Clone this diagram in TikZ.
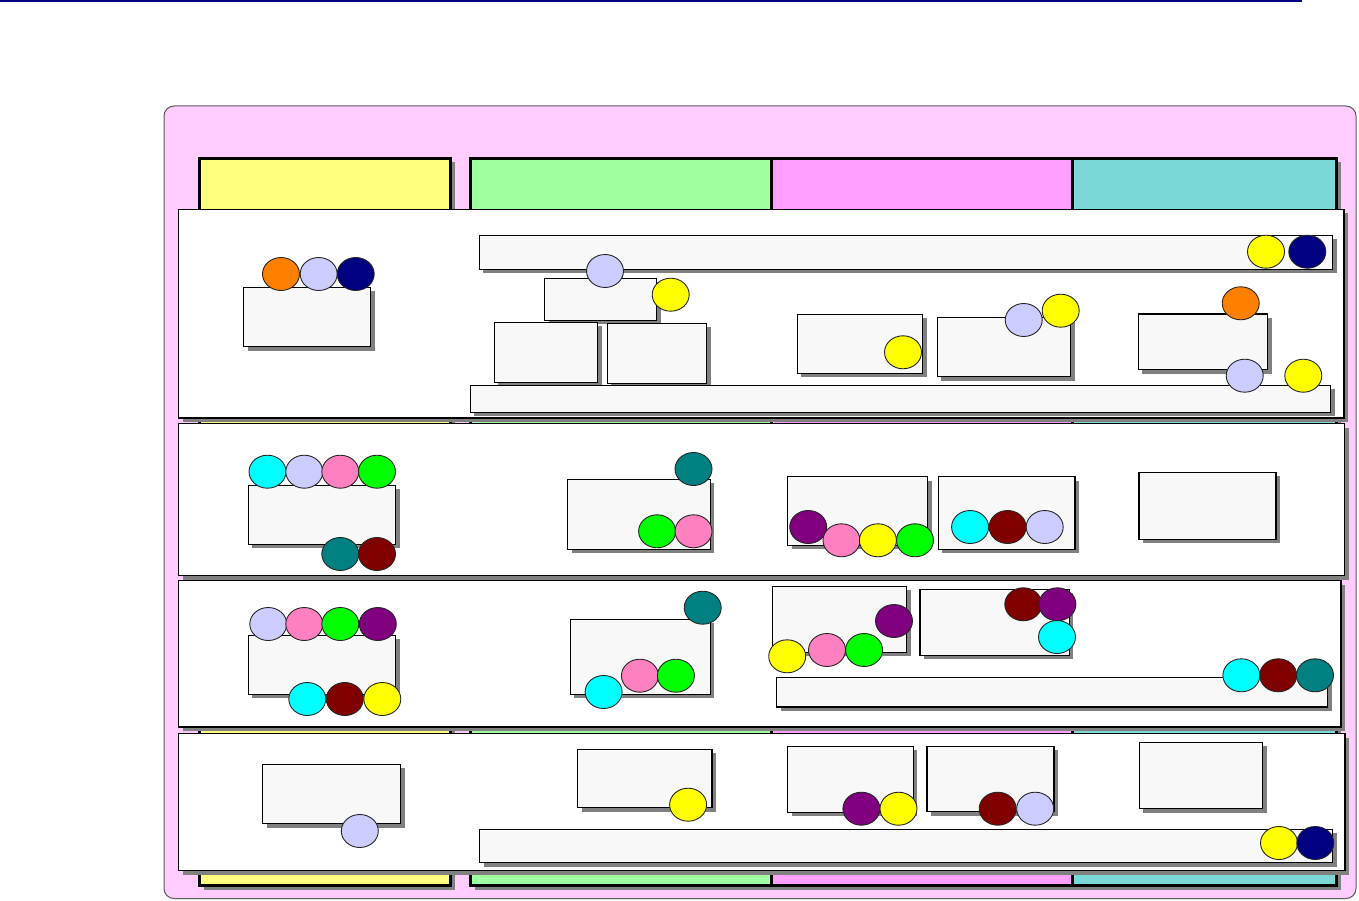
\documentclass[tikz,border=0pt]{standalone}
\usetikzlibrary{shapes.geometric,shadows,fit}
\definecolor{pinkbg}{HTML}{FFCCFF}
\definecolor{colyellow}{HTML}{FFFF80}
\definecolor{colgreen}{HTML}{A0FFA0}
\definecolor{colmag}{HTML}{FF9FFF}
\definecolor{colteal}{HTML}{7AD9D6}
\definecolor{boxfill}{HTML}{F8F8F8}
\definecolor{shadowgray}{HTML}{808080}
\definecolor{bnavy}{HTML}{000080}
\definecolor{borange}{HTML}{FF8000}
\definecolor{blav}{HTML}{CCCCFF}
\definecolor{bcyan}{HTML}{00FFFF}
\definecolor{bpink}{HTML}{FF80C0}
\definecolor{bgreen}{HTML}{00FF00}
\definecolor{bteal}{HTML}{008080}
\definecolor{bmaroon}{HTML}{800000}
\definecolor{bpurple}{HTML}{800080}
\definecolor{byellow}{HTML}{FFFF00}
\tikzset{
  shad/.style={drop shadow={shadow xshift=4pt,shadow yshift=-4pt,fill=shadowgray,opacity=1}},
  colbox/.style={draw=black,line width=3pt,inner sep=0pt,shad},
  lanebox/.style={draw=black,line width=1.3pt,fill=white,inner sep=0pt,shad},
  itembox/.style={draw=black,line width=1.2pt,fill=boxfill,inner sep=0pt,shad},
  ballst/.style={ellipse,draw=black!85,line width=0.9pt,minimum width=37pt,minimum height=33pt,inner sep=0pt}
}
\newcommand{\mkbox}[6]{\node[#1,fit={(#3,#4)(#5,#6)}] (#2) {};}
\newcommand{\mkball}[4]{\node[ballst,fill=#2] (#1) at (#3,#4) {};}
\begin{document}
\begin{tikzpicture}[x=1pt,y=-1pt]
\useasboundingbox (0,0) rectangle (1359,901);
% top rule
\coordinate (rl) at (0,1.2);
\coordinate (rr) at (1302,1.2);
\draw[bnavy,line width=2.4pt] (rl) -- (rr);
% outer frame
\node[draw=black!65,line width=1pt,fill=pinkbg,rounded corners=10pt,inner sep=0pt,fit={(164,106)(1356,898.5)}] (frame) {};
% column headers
\node[colbox,fill=colyellow,fit={(199.5,158.5)(450.5,885.5)}] (cy) {};
\node[colbox,fill=colgreen,fit={(470.5,158.5)(771.5,885.5)}] (cg) {};
\node[colbox,fill=colmag,fit={(771.5,158.5)(1072,885.5)}] (cm) {};
\node[colbox,fill=colteal,fit={(1072,158.5)(1336.5,885.5)}] (ct) {};
% lanes
\mkbox{lanebox}{l1}{178.5}{209.5}{1344}{418}
\mkbox{lanebox}{l2}{178.5}{423.5}{1344.5}{575.5}
\mkbox{lanebox}{l3}{178.5}{580.5}{1341}{727}
\mkbox{lanebox}{l4}{178.5}{733.5}{1345}{870.5}
% lane 1
\mkbox{itembox}{a1}{243.7}{287.3}{370.7}{346.7}
\mkbox{itembox}{a2}{479.3}{235.3}{1332.7}{269.3}
\mkbox{itembox}{a3}{544.7}{278.3}{656.7}{320.3}
\mkbox{itembox}{a4}{494.3}{322.3}{597.7}{382.7}
\mkbox{itembox}{a5}{607.3}{323.3}{706.7}{383.3}
\mkbox{itembox}{a6}{797.3}{314.3}{922.7}{373.3}
\mkbox{itembox}{a7}{937.3}{317.3}{1070.7}{376.7}
\mkbox{itembox}{a8}{1138.3}{314}{1267.7}{369.7}
\mkbox{itembox}{a9}{470.3}{385.3}{1330.7}{412.3}
\mkball{a1o}{borange}{281}{274}
\mkball{a1l}{blav}{318.7}{274}
\mkball{a1n}{bnavy}{355.7}{274}
\mkball{a3l}{blav}{605}{271}
\mkball{a3y}{byellow}{670.7}{294.7}
\mkball{a2y}{byellow}{1266}{251.7}
\mkball{a2n}{bnavy}{1307.3}{251.7}
\mkball{a6y}{byellow}{903}{352.3}
\mkball{a7l}{blav}{1023.7}{320}
\mkball{a7y}{byellow}{1060.7}{310.7}
\mkball{a8o}{borange}{1240.7}{303.3}
\mkball{a9l}{blav}{1244.7}{375.7}
\mkball{a9y}{byellow}{1303.3}{375.7}
% lane 2
\mkbox{itembox}{b1}{248.4}{485.3}{395.7}{544.3}
\mkbox{itembox}{b2}{567.6}{479.3}{710.3}{549.3}
\mkbox{itembox}{b3}{787.6}{476.7}{927.6}{545.3}
\mkbox{itembox}{b4}{938.3}{476.7}{1075}{549.3}
\mkbox{itembox}{b5}{1138.9}{472.3}{1275.9}{539.3}
\mkball{b1c}{bcyan}{267.5}{471.7}
\mkball{b1l}{blav}{304.3}{471.7}
\mkball{b1p}{bpink}{340.3}{471.7}
\mkball{b1g}{bgreen}{377}{471.7}
\mkball{b1t}{bteal}{340.3}{554}
\mkball{b1m}{bmaroon}{377}{554}
\mkball{b2t}{bteal}{693.5}{469}
\mkball{b2g}{bgreen}{657.1}{531.3}
\mkball{b2p}{bpink}{693.5}{531.3}
\mkball{b3u}{bpurple}{808.2}{527}
\mkball{b3p}{bpink}{841.5}{540.3}
\mkball{b3y}{byellow}{877.9}{540.3}
\mkball{b3g}{bgreen}{915}{540.3}
\mkball{b4c}{bcyan}{970.1}{527}
\mkball{b4m}{bmaroon}{1007.6}{527}
\mkball{b4l}{blav}{1044.7}{527}
% lane 3
\mkbox{itembox}{c1}{248.4}{635.3}{395.7}{694.3}
\mkbox{itembox}{c2}{570.3}{619.3}{710.3}{694.3}
\mkbox{itembox}{c3}{772.2}{586.3}{906.6}{652.3}
\mkbox{itembox}{c4}{920}{589.3}{1069.2}{655.3}
\mkbox{itembox}{c5}{776.5}{677.3}{1327.5}{707}
\mkball{c1l}{blav}{268.3}{624}
\mkball{c1p}{bpink}{304.3}{624}
\mkball{c1g}{bgreen}{340.3}{624}
\mkball{c1u}{bpurple}{377.8}{624}
\mkball{c1c}{bcyan}{307.3}{699}
\mkball{c1m}{bmaroon}{344.8}{699}
\mkball{c1y}{byellow}{382.3}{699}
\mkball{c2t}{bteal}{702.7}{607.7}
\mkball{c2c}{bcyan}{603.6}{692}
\mkball{c2p}{bpink}{639.9}{675.7}
\mkball{c2g}{bgreen}{675.9}{675.7}
\mkball{c3u}{bpurple}{894}{621}
\mkball{c3y}{byellow}{787.2}{656.3}
\mkball{c3p}{bpink}{827}{650}
\mkball{c3g}{bgreen}{864.1}{650}
\mkball{c4m}{bmaroon}{1023.3}{604.3}
\mkball{c4u}{bpurple}{1057.4}{604.3}
\mkball{c4c}{bcyan}{1057}{637}
\mkball{c5c}{bcyan}{1241.4}{675.3}
\mkball{c5m}{bmaroon}{1278.2}{675.3}
\mkball{c5t}{bteal}{1315}{675.3}
% lane 4
\mkbox{itembox}{d1}{262.6}{764.3}{400.7}{823.7}
\mkbox{itembox}{d2}{577.5}{749.3}{711.9}{807.7}
\mkbox{itembox}{d6}{479.6}{829.3}{1332.5}{862.7}
\mkbox{itembox}{d3}{787.6}{746.3}{913.1}{812.3}
\mkbox{itembox}{d4}{926.9}{746.3}{1053.9}{811.7}
\mkbox{itembox}{d5}{1139.3}{742.3}{1262.5}{808.7}
\mkball{d1l}{blav}{359.8}{831}
\mkball{d2y}{byellow}{688.1}{804.7}
\mkball{d3u}{bpurple}{861.4}{808.7}
\mkball{d3y}{byellow}{898.5}{808.7}
\mkball{d4m}{bmaroon}{997.7}{808.7}
\mkball{d4l}{blav}{1035.2}{808.7}
\mkball{d6y}{byellow}{1279}{843}
\mkball{d6n}{bnavy}{1315.3}{843}
\end{tikzpicture}
\end{document}
